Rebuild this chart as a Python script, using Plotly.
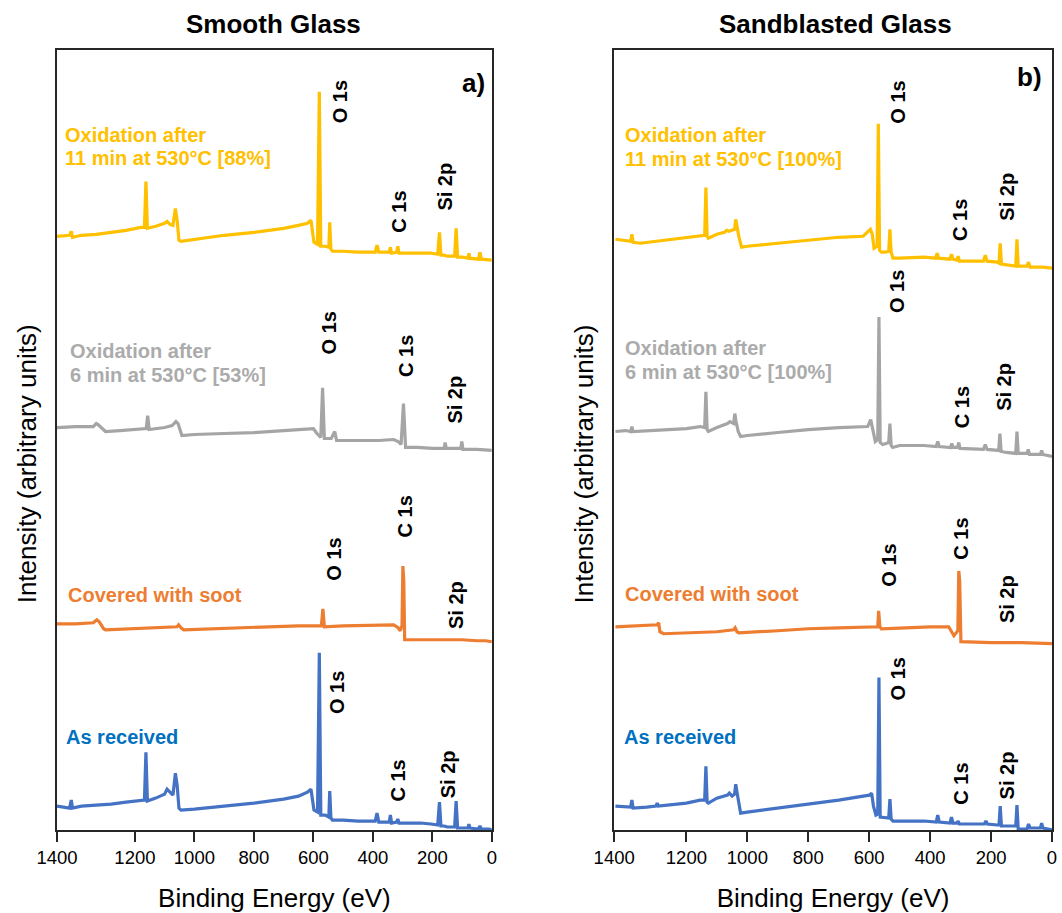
import plotly.graph_objects as go

# ---------------- data (binding energy eV, stacked intensity a.u.) ----------------
smooth_blue_ev = [1462, 1420, 1414, 1410, 1380, 1330, 1280, 1230, 1180, 1168, 1163, 1158, 1130, 1100, 1092, 1082,
                  1072, 1064, 1058, 1052, 1045, 1000, 900, 800, 700, 650, 620, 608, 598, 586, 580, 575, 560, 548,
                  545, 541, 536, 500, 450, 392, 386, 380, 345, 341, 337, 320, 316, 312, 280, 240, 205, 182, 176,
                  171, 160, 150, 125, 120, 115, 100, 80, 77, 74, 45, 40, 35, 10, 0]
smooth_blue_i = [24, 22, 30, 22, 24, 25, 26, 28, 29, 30, 78, 29, 32, 36, 41, 38,
                 35, 57, 45, 22, 20, 21, 24, 27, 31, 34, 38, 41, 20, 18, 178, 15, 15, 13,
                 39, 12, 10, 10, 9, 9, 17, 8, 8, 15, 7, 8, 11, 7, 7, 7, 6, 5, 28,
                 4, 4, 3, 3, 29, 2, 2, 2, 6, 2, 1, 4, 1, 1, 0]

smooth_yellow_ev = smooth_blue_ev[:54] + [160, 150, 125, 120, 115, 100, 80, 77, 74, 45, 40, 35, 10, 0]
smooth_yellow_i = [596, 597, 601, 595, 597, 598, 600, 602, 605, 605, 651, 604, 606, 609, 611, 608,
                   607, 624, 612, 592, 591, 593, 597, 600, 604, 607, 609, 612, 590, 588, 741, 586, 586, 585,
                   610, 583, 581, 581, 580, 580, 587, 580, 580, 585, 579, 580, 586, 579, 579, 579, 579, 578, 600,
                   577, 577, 576, 576, 604, 575, 575, 574, 579, 574, 573, 580, 573, 572, 572]

smooth_gray_ev = [1462, 1400, 1340, 1330, 1324, 1310, 1299, 1250, 1190, 1162, 1157, 1152, 1100, 1075, 1062, 1055,
                  1042, 1000, 900, 800, 700, 600, 588, 575, 569, 563, 540, 528, 522, 450, 380, 330, 315, 305,
                  297, 290, 250, 200, 160, 157, 153, 104, 101, 97, 50, 0]
smooth_gray_i = [404, 405, 405, 408, 407, 403, 400, 401, 402, 403, 416, 402, 404, 406, 410, 408,
                 396, 397, 398, 399, 401, 403, 398, 394, 444, 393, 393, 400, 391, 391, 391, 392, 390, 387,
                 428, 384, 384, 383, 383, 389, 383, 383, 390, 382, 382, 381]

smooth_orange_ev = [1462, 1400, 1340, 1328, 1320, 1305, 1299, 1200, 1100, 1058, 1053, 1045, 1036, 950, 850, 750,
                    650, 593, 573, 568, 563, 500, 400, 330, 315, 308, 302, 299, 296, 293, 250, 150, 100, 50, 20, 0]
smooth_orange_i = [207, 207, 208, 211, 209, 202, 201, 202, 203, 204, 206, 203, 201, 202, 203, 204,
                   205, 205, 205, 222, 204, 205, 206, 206, 203, 200, 205, 265, 250, 191, 191, 191, 191, 190, 190, 189]

sand_yellow_ev = [1433, 1400, 1383, 1379, 1375, 1352, 1300, 1250, 1200, 1150, 1140, 1136, 1132, 1128, 1100, 1075,
                  1068, 1060, 1042, 1038, 1034, 1028, 1019, 1000, 900, 800, 700, 620, 596, 590, 584, 574, 570,
                  566, 560, 548, 536, 532, 528, 522, 500, 420, 382, 377, 372, 335, 330, 325, 312, 308, 304, 225,
                  219, 213, 180, 174, 170, 166, 143, 119, 115, 111, 82, 77, 72, 30, 0]
sand_yellow_i = [593, 592, 591, 598, 590, 589, 591, 593, 595, 597, 597, 645, 596, 594, 598, 600,
                 602, 601, 603, 613, 606, 596, 585, 586, 589, 592, 595, 596, 603, 598, 584, 586, 709,
                 582, 580, 580, 581, 603, 580, 574, 574, 575, 574, 579, 574, 573, 578, 573, 572, 576, 571, 571,
                 577, 571, 570, 569, 589, 568, 567, 566, 593, 566, 566, 570, 565, 565, 564]

sand_gray_ev = [1433, 1400, 1383, 1379, 1375, 1300, 1200, 1155, 1140, 1136, 1132, 1128, 1100, 1065, 1057, 1045,
                1041, 1037, 1030, 1022, 1000, 900, 800, 700, 605, 595, 590, 580, 572, 568, 564, 556, 545, 536,
                532, 528, 523, 500, 420, 380, 375, 370, 333, 329, 325, 310, 306, 302, 225, 219, 213, 175, 171,
                167, 150, 119, 115, 111, 82, 78, 74, 38, 34, 30, 0]
sand_gray_i = [400, 401, 400, 405, 400, 401, 403, 405, 404, 440, 402, 400, 404, 408, 410, 408,
               418, 410, 400, 395, 396, 399, 402, 404, 405, 412, 405, 390, 392, 515, 389, 387, 388, 389,
               408, 386, 384, 386, 386, 385, 390, 385, 384, 388, 384, 384, 389, 383, 382, 387, 382, 381, 398,
               380, 379, 378, 400, 378, 378, 382, 377, 377, 381, 377, 375]

sand_orange_ev = [1433, 1350, 1300, 1296, 1291, 1287, 1275, 1200, 1100, 1045, 1040, 1034, 1028, 900, 800, 700,
                  589, 572, 569, 565, 560, 500, 400, 339, 322, 309, 306, 303, 299, 200, 100, 0]
sand_orange_i = [204, 205, 206, 206, 208, 199, 197, 198, 199, 201, 203, 199, 198, 200, 202, 203,
                 204, 204, 220, 204, 202, 203, 204, 204, 195, 200, 260, 250, 189, 188, 188, 187]

sand_blue_ev = [1433, 1400, 1383, 1379, 1375, 1330, 1300, 1296, 1292, 1200, 1155, 1140, 1136, 1132, 1128, 1100,
                1065, 1059, 1050, 1042, 1038, 1034, 1028, 1022, 1000, 900, 800, 700, 600, 592, 586, 578, 572,
                568, 564, 548, 536, 532, 528, 522, 500, 420, 380, 375, 370, 335, 330, 325, 312, 308, 304, 222,
                217, 212, 180, 174, 170, 166, 150, 119, 115, 111, 82, 77, 72, 38, 34, 30, 0]
sand_blue_i = [24, 23, 23, 30, 22, 23, 24, 27, 24, 27, 30, 30, 64, 28, 27, 32,
               35, 37, 34, 36, 46, 38, 26, 17, 18, 22, 26, 30, 35, 37, 24, 15, 16,
               153, 13, 12, 12, 31, 11, 9, 9, 9, 8, 15, 8, 7, 13, 7, 7, 9, 6, 6,
               9, 6, 5, 5, 24, 4, 4, 4, 25, 1, 1, 6, 2, 2, 7, 2, 0]

panel_titles = ["Smooth Glass", "Sandblasted Glass"]
panel_letters = ["a)", "b)"]
label_yellow_smooth = ["Oxidation after", "11 min at 530°C [88%]"]
label_yellow_sand = ["Oxidation after", "11 min at 530°C [100%]"]
label_gray_smooth = ["Oxidation after", "6 min at 530°C [53%]"]
label_gray_sand = ["Oxidation after", "6 min at 530°C [100%]"]
label_orange = "Covered with soot"
label_blue = "As received"
tick_vals_smooth = [1462, 1200, 1000, 800, 600, 400, 200, 0]
tick_vals_sand = [1437, 1200, 1000, 800, 600, 400, 200, 0]
tick_text = ["1400", "1200", "1000", "800", "600", "400", "200", "0"]

# ---------------- styling ----------------
YELLOW, GRAY, ORANGE, BLUE = "#FFC000", "#A5A5A5", "#ED7D31", "#4472C4"
GRAY_TXT, BLUE_TXT = "#ABABAB", "#0070C0"
FONT = "Liberation Sans, Arial, sans-serif"
LW = 3.2

fig = go.Figure()


def add_line(ev, inten, color, xa, ya):
    fig.add_trace(go.Scatter(x=ev, y=inten, mode="lines", line=dict(color=color, width=LW),
                             xaxis=xa, yaxis=ya, showlegend=False, hoverinfo="skip"))


add_line(smooth_blue_ev, smooth_blue_i, BLUE, "x", "y")
add_line(smooth_orange_ev, smooth_orange_i, ORANGE, "x", "y")
add_line(smooth_gray_ev, smooth_gray_i, GRAY, "x", "y")
add_line(smooth_yellow_ev, smooth_yellow_i, YELLOW, "x", "y")
add_line(sand_blue_ev, sand_blue_i, BLUE, "x2", "y2")
add_line(sand_orange_ev, sand_orange_i, ORANGE, "x2", "y2")
add_line(sand_gray_ev, sand_gray_i, GRAY, "x2", "y2")
add_line(sand_yellow_ev, sand_yellow_i, YELLOW, "x2", "y2")

ann = []


def text(x, y, s, xr, yr, size, color="black", bold=True, angle=0, xanchor="center"):
    ann.append(dict(x=x, y=y, xref=xr, yref=yr, text=("<b>%s</b>" % s) if bold else s, showarrow=False,
                    textangle=angle, xanchor=xanchor, yanchor="middle",
                    font=dict(family=FONT, size=size, color=color)))


PK = 20
# peak labels, smooth glass (data coordinates)
for (xv, yv, s) in [(512, 731, "O 1s"), (311, 621, "C 1s"), (157, 646, "Si 2p"),
                    (549, 499, "O 1s"), (288, 476, "C 1s"), (124, 432, "Si 2p"),
                    (532, 272, "O 1s"), (291, 315, "C 1s"), (120, 226, "Si 2p"),
                    (522, 138, "O 1s"), (314, 50, "C 1s"), (147, 56, "Si 2p")]:
    text(xv, yv, s, "x", "y", PK, angle=-90)
# peak labels, sandblasted glass
for (xv, yv, s) in [(506, 731, "O 1s"), (300, 612, "C 1s"), (147, 636, "Si 2p"),
                    (509, 541, "O 1s"), (297, 424, "C 1s"), (157, 445, "Si 2p"),
                    (536, 266, "O 1s"), (297, 292, "C 1s"), (147, 232, "Si 2p"),
                    (506, 152, "O 1s"), (297, 46, "C 1s"), (147, 55, "Si 2p")]:
    text(xv, yv, s, "x2", "y2", PK, angle=-90)

SL = 20
# series labels
text(1442, 698, label_yellow_smooth[0], "x", "y", SL, YELLOW, xanchor="left")
text(1442, 675, label_yellow_smooth[1], "x", "y", SL, YELLOW, xanchor="left")
text(1425, 481, label_gray_smooth[0], "x", "y", SL, GRAY_TXT, xanchor="left")
text(1425, 457, label_gray_smooth[1], "x", "y", SL, GRAY_TXT, xanchor="left")
text(1432, 236, label_orange, "x", "y", SL, ORANGE, xanchor="left")
text(1439, 93, label_blue, "x", "y", SL, BLUE_TXT, xanchor="left")
text(1408, 698, label_yellow_sand[0], "x2", "y2", SL, YELLOW, xanchor="left")
text(1408, 674, label_yellow_sand[1], "x2", "y2", SL, YELLOW, xanchor="left")
text(1408, 484, label_gray_sand[0], "x2", "y2", SL, GRAY_TXT, xanchor="left")
text(1408, 460, label_gray_sand[1], "x2", "y2", SL, GRAY_TXT, xanchor="left")
text(1408, 237, label_orange, "x2", "y2", SL, ORANGE, xanchor="left")
text(1411, 93, label_blue, "x2", "y2", SL, BLUE_TXT, xanchor="left")

# panel letters
text(60, 750, panel_letters[0], "x", "y", 26)
text(75, 756, panel_letters[1], "x2", "y2", 26)

# panel titles
text(0.218, 1.033, panel_titles[0], "paper", "paper", 26)
text(0.782, 1.033, panel_titles[1], "paper", "paper", 26)

# y-axis titles
text(-0.030, 0.469, "Intensity (arbitrary units)", "paper", "paper", 26, bold=False, angle=-90)
text(0.530, 0.469, "Intensity (arbitrary units)", "paper", "paper", 26, bold=False, angle=-90)

axis_common = dict(showline=True, linecolor="#262626", linewidth=1.5, mirror=True, showgrid=False,
                   zeroline=False)
xcommon = dict(axis_common, ticks="outside", ticklen=10, tickwidth=1.5, tickcolor="#262626",
               tickfont=dict(family=FONT, size=18.5, color="black"),
               title=dict(text="Binding Energy (eV)", font=dict(family=FONT, size=26, color="black"),
                          standoff=22))

fig.update_layout(
    width=1062, height=913,
    margin=dict(l=57, r=5, t=50, b=80),
    paper_bgcolor="white", plot_bgcolor="white",
    font=dict(family=FONT),
    xaxis=dict(xcommon, domain=[0, 0.437], range=[1462, 0], tickmode="array",
               tickvals=tick_vals_smooth, ticktext=tick_text, anchor="y"),
    xaxis2=dict(xcommon, domain=[0.56, 1.0], range=[1437, 0], tickmode="array",
                tickvals=tick_vals_sand, ticktext=tick_text, anchor="y2"),
    yaxis=dict(axis_common, domain=[0, 1], range=[0, 783], showticklabels=False, ticks="", anchor="x"),
    yaxis2=dict(axis_common, domain=[0, 1], range=[0, 783], showticklabels=False, ticks="", anchor="x2"),
    annotations=ann,
)

fig.write_html("out.html")
